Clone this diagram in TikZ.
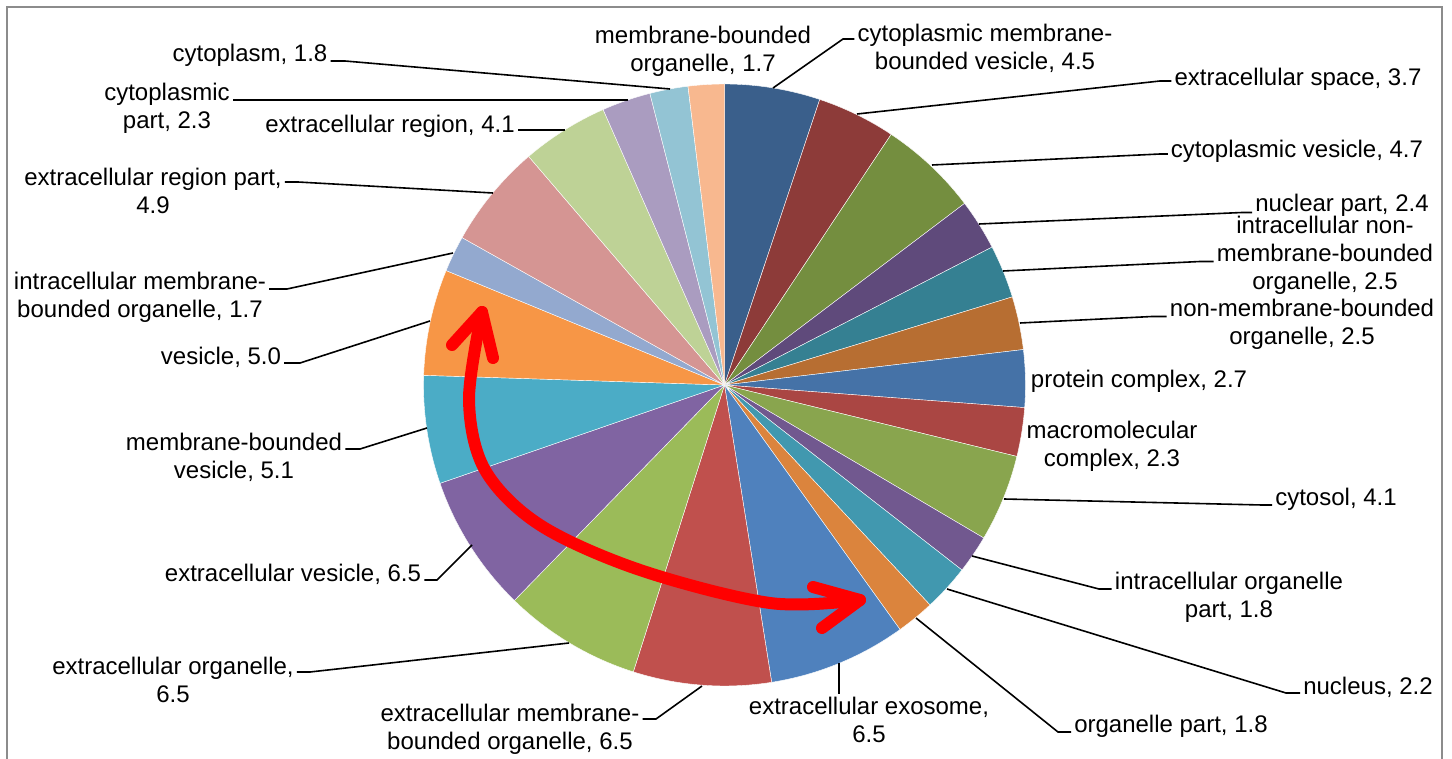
\documentclass[tikz,border=0pt]{standalone}
\usepackage{fontspec}
\setmainfont{Liberation Sans}
\definecolor{s1}{HTML}{3A5F8B}
\definecolor{s2}{HTML}{8D3B39}
\definecolor{s3}{HTML}{748E3F}
\definecolor{s4}{HTML}{5F4A7B}
\definecolor{s5}{HTML}{358092}
\definecolor{s6}{HTML}{B76E32}
\definecolor{s7}{HTML}{4572A7}
\definecolor{s8}{HTML}{AA4643}
\definecolor{s9}{HTML}{89A54E}
\definecolor{s10}{HTML}{71588F}
\definecolor{s11}{HTML}{4198AF}
\definecolor{s12}{HTML}{DB843D}
\definecolor{s13}{HTML}{4F81BD}
\definecolor{s14}{HTML}{C0504D}
\definecolor{s15}{HTML}{9BBB59}
\definecolor{s16}{HTML}{8064A2}
\definecolor{s17}{HTML}{4BACC6}
\definecolor{s18}{HTML}{F79646}
\definecolor{s19}{HTML}{93A9CF}
\definecolor{s20}{HTML}{D59593}
\definecolor{s21}{HTML}{BED296}
\definecolor{s22}{HTML}{AA9CC0}
\definecolor{s23}{HTML}{93C4D4}
\definecolor{s24}{HTML}{F8B88F}
\definecolor{framegray}{HTML}{8C8C8C}
\definecolor{arrowred}{HTML}{FF0000}
\begin{document}
\begin{tikzpicture}[x=1pt,y=-1pt,
  lab/.style={font=\fontsize{24}{28}\selectfont, align=center, inner sep=3pt},
  lead/.style={draw=black, line width=1.6pt},
  bigarrow/.style={draw=arrowred, line width=12pt, line cap=round, line join=round}]
\useasboundingbox (0,0) rectangle (1452,759);
\fill[white] (0,0) rectangle (1452,759);
\draw[framegray, line width=1.8pt] (7,765) -- (7,7) -- (1442,7) -- (1442,765);
\coordinate (c) at (724.5,385);
\def\R{301}
\foreach \a/\b/\col in {0/4.5/s1, 4.5/8.2/s2, 8.2/12.9/s3, 12.9/15.3/s4, 15.3/17.8/s5,
  17.8/20.3/s6, 20.3/23.0/s7, 23.0/25.3/s8, 25.3/29.4/s9, 29.4/31.2/s10, 31.2/33.4/s11,
  33.4/35.2/s12, 35.2/41.7/s13, 41.7/48.2/s14, 48.2/54.7/s15, 54.7/61.2/s16,
  61.2/66.3/s17, 66.3/71.3/s18, 71.3/73.0/s19, 73.0/77.9/s20, 77.9/82.0/s21,
  82.0/84.3/s22, 84.3/86.1/s23, 86.1/87.8/s24} {
  \pgfmathsetmacro\sa{-90+\a/87.8*360}
  \pgfmathsetmacro\ea{-90+\b/87.8*360}
  \filldraw[fill=\col, draw=white, line width=0.4pt] (c) -- ++(\sa:\R) arc[start angle=\sa, end angle=\ea, radius=\R] -- cycle;
}

% labels
\node[lab] (L1) at (985,48) {cytoplasmic membrane-\\bounded vesicle, 4.5};
\node[lab] (L2) at (1298,79) {extracellular space, 3.7};
\node[lab] (L3) at (1297,151) {cytoplasmic vesicle, 4.7};
\node[lab] (L4) at (1342,205) {nuclear part, 2.4};
\node[lab] (L5) at (1325,255) {intracellular non-\\membrane-bounded\\organelle, 2.5};
\node[lab] (L6) at (1302,324) {non-membrane-bounded\\organelle, 2.5};
\node[lab] (L7) at (1139,381) {protein complex, 2.7};
\node[lab] (L8) at (1112,446) {macromolecular\\complex, 2.3};
\node[lab] (L9) at (1336,499) {cytosol, 4.1};
\node[lab] (L10) at (1229,597) {intracellular organelle\\part, 1.8};
\node[lab] (L11) at (1368,687) {nucleus, 2.2};
\node[lab] (L12) at (1171,726) {organelle part, 1.8};
\node[lab] (L13) at (869,720) {extracellular exosome,\\6.5};
\node[lab] (L14) at (510,729) {extracellular membrane-\\bounded organelle, 6.5};
\node[lab] (L15) at (173,680) {extracellular organelle,\\6.5};
\node[lab] (L16) at (293,574) {extracellular vesicle, 6.5};
\node[lab] (L17) at (234,457) {membrane-bounded\\vesicle, 5.1};
\node[lab] (L18) at (221,357) {vesicle, 5.0};
\node[lab] (L19) at (140,297) {intracellular membrane-\\bounded organelle, 1.7};
\node[lab] (L20) at (153,191) {extracellular region part,\\4.9};
\node[lab] (L21) at (390,126) {extracellular region, 4.1};
\node[lab] (L22) at (167,108) {cytoplasmic\\part, 2.3};
\node[lab] (L23) at (250,55) {cytoplasm, 1.8};
\node[lab] (L24) at (703,51) {membrane-bounded\\organelle, 1.7};

% leader lines
\coordinate (P1) at (773,88);   \coordinate (K1) at (843,39);
\draw[lead] (P1) -- (K1) -- (K1 -| L1.west);
\coordinate (P2) at (857,114);  \coordinate (K2) at (1160,81);
\draw[lead] (P2) -- (K2) -- (K2 -| L2.west);
\coordinate (P3) at (932,165);  \coordinate (K3) at (1160,154);
\draw[lead] (P3) -- (K3) -- (K3 -| L3.west);
\coordinate (P4) at (979,224);  \coordinate (K4) at (1242,212.5);
\draw[lead] (P4) -- (K4) -- (K4 -| L4.west);
\coordinate (P5) at (1003,271); \coordinate (K5) at (1200,261.5);
\draw[lead] (P5) -- (K5) -- (K5 -| L5.west);
\coordinate (P6) at (1020,323); \coordinate (K6) at (1152,316.5);
\draw[lead] (P6) -- (K6) -- (K6 -| L6.west);
\coordinate (P9) at (1004,499); \coordinate (K9) at (1262,505);
\draw[lead] (P9) -- (K9) -- (K9 -| L9.west);
\coordinate (P10) at (972,556); \coordinate (K10) at (1099,589);
\draw[lead] (P10) -- (K10) -- (K10 -| L10.west);
\coordinate (P11) at (947,589); \coordinate (K11) at (1286,693);
\draw[lead] (P11) -- (K11) -- (K11 -| L11.west);
\coordinate (P12) at (916,618); \coordinate (K12) at (1058,732);
\draw[lead] (P12) -- (K12) -- (K12 -| L12.west);
\coordinate (P13) at (839,663);
\draw[lead] (P13) -- (P13 |- L13.north);
\coordinate (P14) at (702,686); \coordinate (K14) at (656,719);
\draw[lead] (P14) -- (K14) -- (K14 -| L14.east);
\coordinate (P15) at (569,643); \coordinate (K15) at (310,672);
\draw[lead] (P15) -- (K15) -- (K15 -| L15.east);
\coordinate (P16) at (472,545); \coordinate (K16) at (437,580);
\draw[lead] (P16) -- (K16) -- (K16 -| L16.east);
\coordinate (P17) at (427,428); \coordinate (K17) at (360,449);
\draw[lead] (P17) -- (K17) -- (K17 -| L17.east);
\coordinate (P18) at (430,321); \coordinate (K18) at (300,363);
\draw[lead] (P18) -- (K18) -- (K18 -| L18.east);
\coordinate (P19) at (453,253); \coordinate (K19) at (287,289);
\draw[lead] (P19) -- (K19) -- (K19 -| L19.east);
\coordinate (P20) at (493,193); \coordinate (K20) at (298,182);
\draw[lead] (P20) -- (K20) -- (K20 -| L20.east);
\coordinate (P21) at (565,130);
\draw[lead] (P21) -- (P21 -| L21.east);
\coordinate (P22) at (628,100);
\draw[lead] (P22) -- (P22 -| L22.east);
\coordinate (P23) at (670,89);  \coordinate (K23) at (345,61);
\draw[lead] (P23) -- (K23) -- (K23 -| L23.east);

% red double arrow
\coordinate (T1) at (482,312);
\coordinate (T2) at (860,600);
\draw[bigarrow] plot[smooth, tension=0.55] coordinates {(482,312) (469,400) (485,470) (540,525) (640,570) (770,603) (860,600)};
\coordinate (H1a) at (452,345); \coordinate (H1b) at (493,358);
\coordinate (H2a) at (813,587); \coordinate (H2b) at (822,628);
\draw[bigarrow] (H1a) -- (T1) -- (H1b);
\draw[bigarrow] (H2a) -- (T2) -- (H2b);
\end{tikzpicture}
\end{document}
